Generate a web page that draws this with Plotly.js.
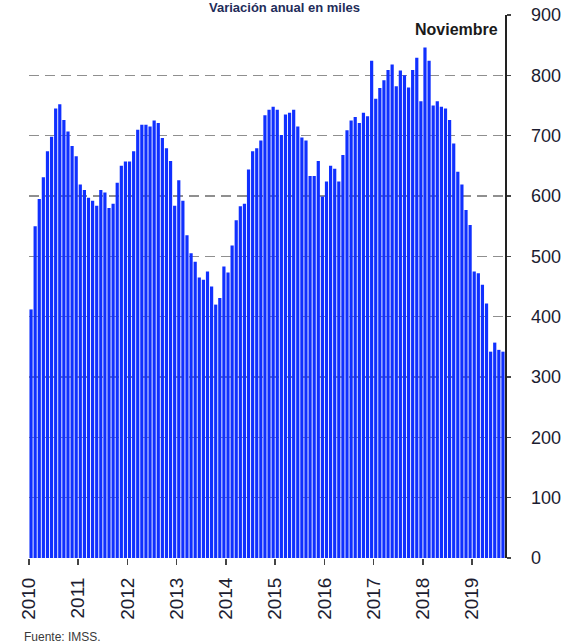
<!DOCTYPE html>
<html>
<head>
<meta charset="utf-8">
<script src="https://cdn.plot.ly/plotly-3.0.1.min.js"></script>
<style>html,body{margin:0;padding:0;background:#fff;}#chart{width:574px;height:644px;}</style>
</head>
<body>
<div id="chart"></div>
<script>
// Tick labels (one per year, first month of each year)
const years = ['2010','2011','2012','2013','2014','2015','2016','2017','2018','2019'];
// Annual variation (thousands), monthly bars in order
const variacion = [
  412, 550, 595, 631, 674, 698, 745, 752, 726, 707, 683, 666,
  619, 610, 597, 592, 584, 610, 606, 580, 587, 622, 650, 657,
  657, 674, 710, 718, 718, 715, 725, 721, 696, 679, 658, 584,
  626, 592, 535, 505, 491, 465, 461, 475, 450, 420, 431, 483,
  473, 518, 560, 583, 587, 644, 674, 679, 692, 734, 743, 748,
  743, 701, 735, 738, 743, 715, 697, 692, 633, 633, 658, 599,
  624, 650, 645, 624, 668, 709, 725, 731, 721, 738, 732, 824,
  761, 779, 792, 809, 818, 782, 808, 800, 780, 809, 829, 757,
  846, 824, 750, 757, 748, 745, 726, 687, 640, 619, 577, 552,
  475, 472, 453, 422, 342, 357, 345, 342
];
const titulo = 'Variación anual en miles';
const ultimoMes = 'Noviembre';
const fuente = 'Fuente: IMSS.';

const xIdx = variacion.map((_, i) => i);
const tickPos = years.map((_, k) => k * 12 - 0.5);

const font = 'Liberation Sans, Arial, sans-serif';

const trace = {
  type: 'bar',
  x: xIdx,
  y: variacion,
  marker: {color: '#1030ff', line: {width: 0}},
  hoverinfo: 'y'
};

const layout = {
  width: 574, height: 644,
  margin: {l: 29, r: 69, t: 15, b: 86},
  paper_bgcolor: '#ffffff', plot_bgcolor: '#ffffff',
  showlegend: false,
  bargap: 0.22,
  font: {family: font, color: '#1c1c30'},
  xaxis: {
    range: [-0.5, variacion.length - 0.5],
    tickmode: 'array', tickvals: tickPos, ticktext: years,
    tickangle: -90,
    ticks: 'outside', ticklen: 6, tickwidth: 1.5, tickcolor: '#444',
    ticklabelstandoff: 5,
    tickfont: {size: 19, family: font, color: '#1c1c30'},
    showgrid: false, zeroline: false, showline: false,
    fixedrange: true
  },
  yaxis: {
    side: 'right',
    range: [0, 900], dtick: 100, tick0: 0,
    showline: true, linecolor: '#222', linewidth: 1.5,
    ticks: 'outside', ticklen: 4, tickwidth: 1.5, tickcolor: '#444',
    ticklabelstandoff: 17,
    tickfont: {size: 18, family: font, color: '#1c1c30'},
    showgrid: true, gridcolor: '#8f8f8f', gridwidth: 1.4, griddash: '10px,6px',
    zeroline: false,
    fixedrange: true
  },
  annotations: [
    {text: '<b>' + titulo + '</b>', xref: 'paper', yref: 'paper', x: (284-29)/476, y: 1 + 8/543,
     xanchor: 'center', yanchor: 'middle', showarrow: false,
     font: {size: 13, family: font, color: '#1f2d5a'}},
    {text: '<b>' + ultimoMes + '</b>', xref: 'paper', yref: 'paper', x: (500-29)/476, y: 1 - 14/543,
     xanchor: 'right', yanchor: 'middle', showarrow: false,
     font: {size: 16, family: font, color: '#1a1a1a'}},
    {text: fuente, xref: 'paper', yref: 'paper', x: (22-29)/476, y: -(637-558)/543,
     xanchor: 'left', yanchor: 'middle', showarrow: false,
     font: {size: 12, family: font, color: '#3a3a3a'}}
  ]
};

Plotly.newPlot('chart', [trace], layout, {displayModeBar: false, staticPlot: true});
</script>
</body>
</html>
